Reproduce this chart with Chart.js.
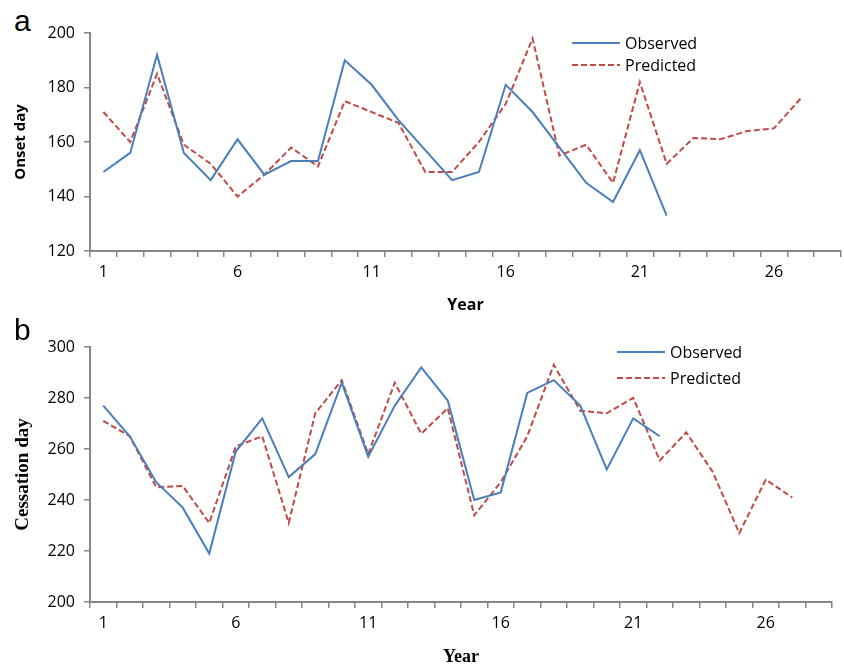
<!DOCTYPE html>
<html>
<head>
<meta charset="utf-8">
<script src="https://cdn.jsdelivr.net/npm/chart.js@4"></script>
<style>
  body { margin: 0; background: #fff; }
  #wrap { position: relative; width: 844px; height: 668px; }
  canvas { position: absolute; left: 0; }
  .panel { position: absolute; left: 14px; font: 30px "Liberation Sans", Arial, sans-serif; color: #000; }
</style>
</head>
<body>
<div id="wrap">
  <span class="panel" style="top:4px">a</span>
  <canvas id="onset" width="844" height="315" style="top:0"></canvas>
  <span class="panel" style="top:313px">b</span>
  <canvas id="cessation" width="844" height="358" style="top:310px"></canvas>
</div>
<script>
// categories (years 1..28, only every 5th is labelled)
const years = ['1','2','3','4','5','6','7','8','9','10','11','12','13','14','15','16','17','18','19','20','21','22','23','24','25','26','27','28'];
const shownYears = ['1','6','11','16','21','26'];

// panel a - onset day
const onsetObserved = [149, 156, 192, 156, 146, 161, 148, 153, 153, 190, 181, 168, 157, 146, 149, 181, 171, 158, 145, 138, 157, 133];
const onsetPredicted = [171, 160, 185, 159, 152, 140, 148, 158, 151, 175, 171, 167, 149, 149, 160, 174, 198, 155, 159, 145, 182, 152, 161.5, 161, 164, 165, 176];
const onsetTicks = [120, 140, 160, 180, 200];

// panel b - cessation day
const cessObserved = [277, 265, 247, 237, 219, 259, 272, 249, 258, 286, 257, 277, 292, 279, 240, 243, 282, 287, 277, 252, 272, 265];
const cessPredicted = [271, 265, 245, 245.5, 231, 261, 265, 231, 274, 287, 258, 286, 266, 276, 234, 247, 265, 293, 275, 274, 280, 255.5, 266.5, 251, 227, 248, 241];
const cessTicks = [200, 220, 240, 260, 280, 300];

const blue = '#4a7ebb';
const red = '#be4b48';
const axisGray = '#868686';
const sans = "'Open Sans', 'Noto Sans', sans-serif";
const serif = "'Liberation Serif', 'Times New Roman', serif";

// legend drawn inside the plot, Excel style
const lineLegend = {
  id: 'lineLegend',
  afterDraw(chart, args, opts) {
    const ctx = chart.ctx;
    ctx.save();
    chart.data.datasets.forEach(function(ds, i) {
      const y = opts.y + i * opts.gap;
      ctx.beginPath();
      ctx.strokeStyle = ds.borderColor;
      ctx.lineWidth = 2;
      ctx.setLineDash(ds.borderDash || []);
      ctx.moveTo(opts.x, y);
      ctx.lineTo(opts.x + 48, y);
      ctx.stroke();
      ctx.setLineDash([]);
      ctx.fillStyle = '#000';
      ctx.font = '16px ' + sans;
      ctx.textBaseline = 'middle';
      ctx.fillText(ds.label, opts.x + 53, y + 1);
    });
    ctx.restore();
  }
};

function makeChart(id, obs, pred, ticks, yTitle, cfg) {
  const ctx = document.getElementById(id).getContext('2d');
  return new Chart(ctx, {
    type: 'line',
    data: {
      labels: years,
      datasets: [{
        label: 'Observed',
        data: obs,
        borderColor: blue,
        borderWidth: 2,
        pointRadius: 0,
        tension: 0,
        fill: false
      }, {
        label: 'Predicted',
        data: pred,
        borderColor: red,
        borderWidth: 2,
        borderDash: [6, 3],
        pointRadius: 0,
        tension: 0,
        fill: false
      }]
    },
    plugins: [lineLegend],
    options: {
      responsive: false,
      animation: false,
      layout: { padding: cfg.padding },
      plugins: {
        legend: { display: false },
        tooltip: { enabled: false },
        lineLegend: cfg.legend
      },
      scales: {
        x: {
          offset: true,
          grid: { offset: true, drawOnChartArea: false, drawTicks: true, tickLength: 6, color: axisGray, lineWidth: 1.5 },
          border: { color: axisGray, width: 2 },
          ticks: {
            autoSkip: false,
            maxRotation: 0,
            padding: 6,
            color: '#000',
            font: { family: sans, size: 16 },
            callback: function(v, i) {
              const lab = years[i];
              return shownYears.indexOf(lab) >= 0 ? lab : '';
            }
          },
          title: {
            display: true,
            text: 'Year',
            color: '#000',
            font: cfg.xTitleFont,
            padding: cfg.xTitlePad
          },
          afterFit: function(s) { s.height = cfg.xHeight; }
        },
        y: {
          min: ticks[0],
          max: ticks[ticks.length - 1],
          afterBuildTicks: function(s) { s.ticks = ticks.map(function(v) { return { value: v }; }); },
          grid: { drawOnChartArea: false, drawTicks: true, tickLength: 6, color: axisGray, lineWidth: 1.5 },
          border: { color: axisGray, width: 2 },
          ticks: {
            padding: 9,
            color: '#000',
            font: { family: sans, size: 16 }
          },
          title: {
            display: true,
            text: yTitle,
            color: '#000',
            font: cfg.yTitleFont,
            padding: { top: 12, bottom: 0 }
          },
          afterFit: function(s) { s.width = 90; }
        }
      }
    }
  });
}

makeChart('onset', onsetObserved, onsetPredicted, onsetTicks, 'Onset day', {
  padding: { top: 33, right: 3, bottom: 0, left: 0 },
  xHeight: 64,
  xTitleFont: { family: sans, size: 16, weight: 'bold' },
  xTitlePad: { top: 3, bottom: 0 },
  yTitleFont: { family: sans, size: 15, weight: 'bold' },
  legend: { x: 572, y: 43, gap: 22 }
});

makeChart('cessation', cessObserved, cessPredicted, cessTicks, 'Cessation day', {
  padding: { top: 37, right: 12, bottom: 0, left: 0 },
  xHeight: 66,
  xTitleFont: { family: serif, size: 18, weight: 'bold' },
  xTitlePad: { top: 0, bottom: 0 },
  yTitleFont: { family: serif, size: 19, weight: 'bold' },
  legend: { x: 617, y: 42, gap: 26 }
});
</script>
</body>
</html>
